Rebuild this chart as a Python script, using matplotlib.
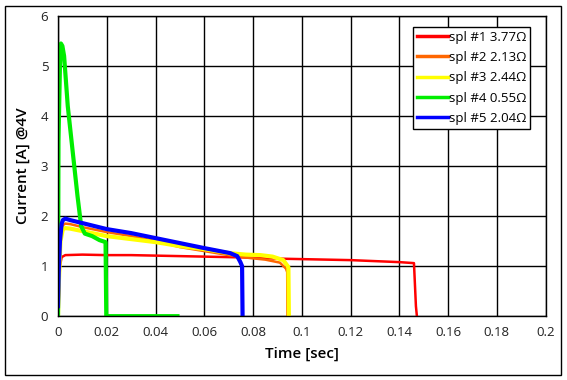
import matplotlib
matplotlib.use("Agg")
import matplotlib.pyplot as plt
from matplotlib.patches import Rectangle

plt.rcParams['font.family'] = ['Open Sans', 'DejaVu Sans']

# spl #1 (red)
t1 = [0.0, 0.0003, 0.0008, 0.0015, 0.003, 0.01, 0.02, 0.03, 0.04, 0.05, 0.06,
      0.07, 0.08, 0.09, 0.1, 0.11, 0.12, 0.13, 0.14, 0.146, 0.1468, 0.1472]
i1 = [0.0, 0.3, 1.0, 1.18, 1.22, 1.23, 1.22, 1.22, 1.21, 1.2, 1.19,
      1.18, 1.17, 1.15, 1.14, 1.13, 1.12, 1.1, 1.08, 1.06, 0.2, 0.0]

# spl #2 (orange)
t2 = [0.0, 0.0003, 0.001, 0.002, 0.003, 0.005, 0.01, 0.02, 0.03, 0.04, 0.05,
      0.06, 0.07, 0.079, 0.085, 0.091, 0.0935, 0.094, 0.0941]
i2 = [0.1, 0.9, 1.6, 1.82, 1.85, 1.84, 1.78, 1.68, 1.6, 1.5, 1.38,
      1.3, 1.22, 1.16, 1.13, 1.07, 0.95, 0.88, 0.0]

# spl #3 (yellow)
t3 = [0.0, 0.0003, 0.001, 0.002, 0.003, 0.005, 0.01, 0.02, 0.03, 0.04, 0.05,
      0.06, 0.07, 0.077, 0.083, 0.088, 0.0924, 0.0945, 0.0947]
i3 = [0.0, 0.6, 1.5, 1.74, 1.76, 1.75, 1.7, 1.6, 1.54, 1.48, 1.4,
      1.34, 1.26, 1.23, 1.22, 1.19, 1.12, 0.98, 0.0]

# spl #4 (green)
t4 = [0.0, 0.0002, 0.0008, 0.0012, 0.0018, 0.0025, 0.004, 0.006, 0.008, 0.0095,
      0.011, 0.014, 0.017, 0.0195, 0.0197, 0.0198, 0.049]
i4 = [0.0, 3.5, 5.0, 5.45, 5.4, 5.2, 4.2, 3.3, 2.4, 1.8,
      1.65, 1.6, 1.52, 1.48, 0.5, 0.0, 0.0]

# spl #5 (blue)
t5 = [0.0, 0.0003, 0.0008, 0.0015, 0.002, 0.003, 0.005, 0.01, 0.02, 0.03, 0.04,
      0.05, 0.06, 0.0706, 0.0735, 0.0748, 0.0755, 0.0757]
i5 = [0.2, 0.9, 1.5, 1.85, 1.92, 1.95, 1.92, 1.86, 1.74, 1.66, 1.56,
      1.46, 1.36, 1.26, 1.2, 1.08, 1.0, 0.0]

series = [
    (t1, i1, 'spl #1 3.77Ω', '#ff0000', 1.8),
    (t2, i2, 'spl #2 2.13Ω', '#ff6600', 1.8),
    (t3, i3, 'spl #3 2.44Ω', '#ffff00', 3.0),
    (t4, i4, 'spl #4 0.55Ω', '#00ee00', 3.0),
    (t5, i5, 'spl #5 2.04Ω', '#0000ff', 3.0),
]

fig = plt.figure(figsize=(5.67, 3.80), dpi=100)
ax = fig.add_axes([0.1023, 0.168, 0.860, 0.790])

for t, i, lab, col, lw in series:
    ax.plot(t, i, color=col, lw=lw, label=lab)

ax.set_xlim(0, 0.2)
ax.set_ylim(0, 6)
ax.set_xticks([0, 0.02, 0.04, 0.06, 0.08, 0.1, 0.12, 0.14, 0.16, 0.18, 0.2])
ax.set_xticklabels(['0', '0.02', '0.04', '0.06', '0.08', '0.1', '0.12', '0.14', '0.16', '0.18', '0.2'])
ax.set_yticks(range(7))
ax.grid(True, color='black', lw=1.0)
ax.set_axisbelow(True)
ax.tick_params(length=0, labelsize=9.5, pad=7, colors='#222222')
for s in ax.spines.values():
    s.set_linewidth(1.0)

ax.set_xlabel('Time [sec]', fontsize=11, fontweight='semibold', labelpad=6)
ax.set_ylabel('Current [A] @4V', fontsize=11, fontweight='semibold', labelpad=8)

leg = ax.legend(loc='upper right', fontsize=9.5, frameon=True, fancybox=False,
                framealpha=1, edgecolor='black', handlelength=2.4,
                handletextpad=0.05, borderaxespad=0.6, labelspacing=0.55,
                borderpad=0.3, bbox_to_anchor=(0.985, 0.99))
leg.get_frame().set_linewidth(1.0)
for h in leg.get_lines():
    h.set_linewidth(2.5)

fig.patches.append(Rectangle((5 / 567, 5 / 380), 556 / 567, 369 / 380,
                             transform=fig.transFigure, fill=False,
                             edgecolor='black', lw=1.0))

fig.savefig('out.png', dpi=100)
